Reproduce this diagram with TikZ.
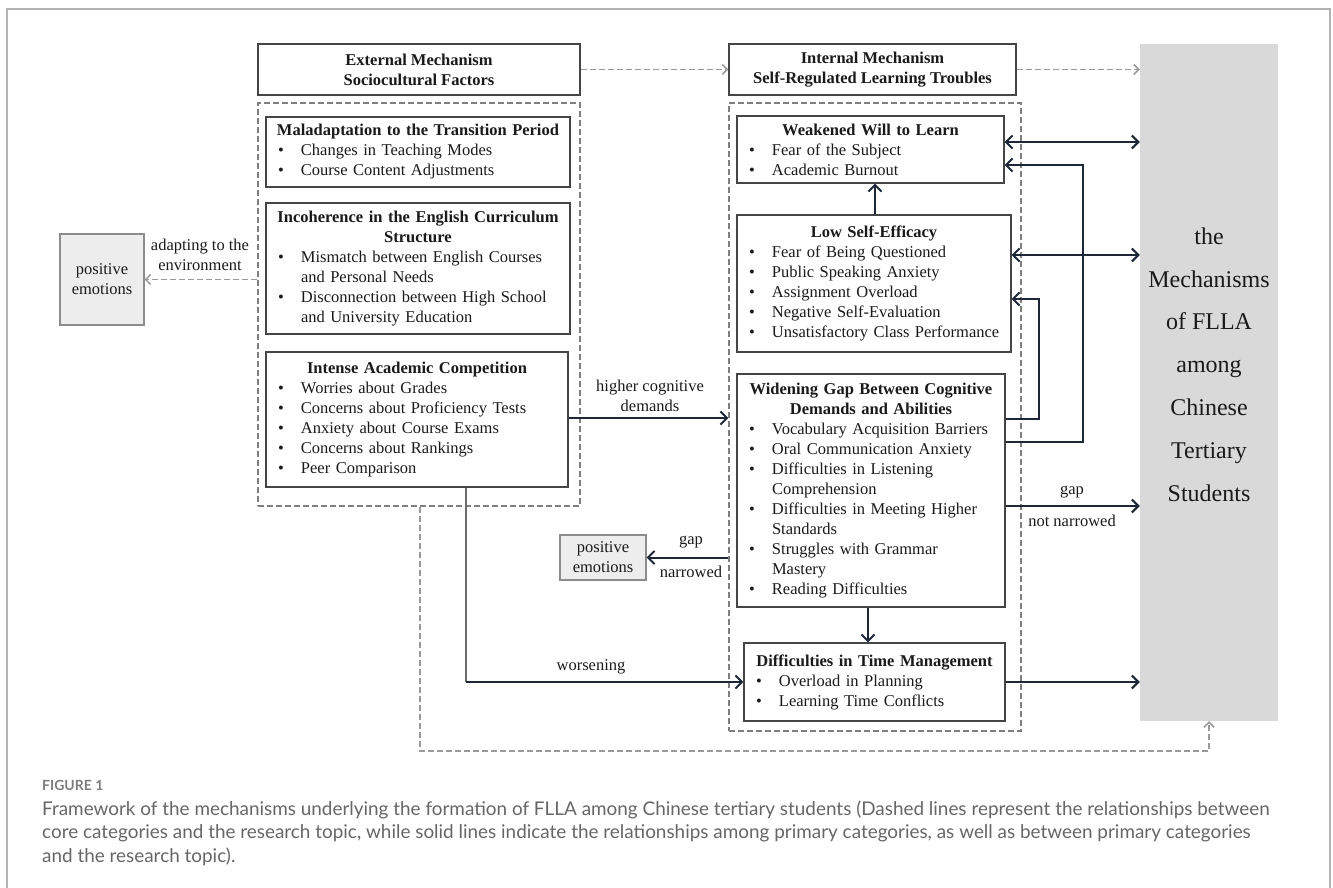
\documentclass[tikz,border=0pt]{standalone}
\usepackage{fontspec}
\setmainfont{Liberation Serif}
\newfontfamily\capfont{Lato}
\usetikzlibrary{arrows.meta}
\definecolor{boxc}{HTML}{454545}
\definecolor{txt}{HTML}{1A1A1A}
\definecolor{arrc}{HTML}{1E2638}
\definecolor{contc}{HTML}{7F7F7F}
\definecolor{dshc}{HTML}{9A9A9A}
\definecolor{grayfill}{HTML}{D9D9D9}
\definecolor{posfill}{HTML}{EDEDED}
\definecolor{posdraw}{HTML}{8C8C8C}
\definecolor{framec}{HTML}{B4B4B4}
\definecolor{capc}{HTML}{666666}
\newcommand\itm[1]{\par\noindent\makebox[27pt][l]{\hspace{4pt}\textbullet}\mbox{#1}}
\newcommand\cnt[1]{\par\noindent\hspace*{27pt}\mbox{#1}}
\newcommand\ttl[1]{{\centering\bfseries #1\par}}
\begin{document}
\begin{tikzpicture}[x=1pt,y=-1pt,
  fnt/.style={font=\fontsize{16.5}{20}\selectfont},
  hdr/.style={draw=boxc, line width=1.3pt, fill=white, align=center, text=txt, fnt, inner sep=0pt},
  box/.style={draw=boxc, line width=1.3pt, fill=white, align=left, text=txt, fnt, inner xsep=8pt, inner ysep=0pt},
  cont/.style={draw=contc, line width=1.3pt, dash pattern=on 6pt off 3pt, inner sep=0pt},
  posbox/.style={draw=posdraw, line width=1.2pt, fill=posfill, align=center, text=txt, fnt, inner sep=0pt},
  lbl/.style={align=center, text=txt, fnt, inner sep=0pt},
  arr/.style={draw=arrc, line width=2pt, -{Straight Barb[length=6.5pt,width=13pt]}},
  darr/.style={draw=arrc, line width=2pt, {Straight Barb[length=6.5pt,width=13pt]}-{Straight Barb[length=6.5pt,width=13pt]}},
  thinln/.style={draw=boxc!80, line width=1.2pt},
  dsh/.style={draw=dshc, line width=1.5pt, dash pattern=on 6pt off 3pt, -{Straight Barb[length=5pt,width=10pt]}},
]
\useasboundingbox (0,0) rectangle (1333,888);
\draw[framec, line width=1.5pt] (7,888) -- (7,9) -- (1330,9) -- (1330,888);

% containers
\node[cont, minimum width=322pt, minimum height=403pt] (lc) at (419,304.5) {};
\node[cont, minimum width=292pt, minimum height=628pt] (rc) at (875,417) {};

% headers
\node[hdr, minimum width=322pt, minimum height=51pt] (ext) at (419,69.5) {\textbf{External Mechanism}\\\textbf{Sociocultural Factors}};
\node[hdr, minimum width=287pt, minimum height=51pt] (int) at (872.5,69.5) {\textbf{Internal Mechanism}\\\textbf{Self-Regulated Learning Troubles}};

% research topic
\node[fill=grayfill, minimum width=138pt, minimum height=677pt, inner sep=0pt] (gray) at (1209,382.5) {};
\node[align=center, text=txt, font=\fontsize{24}{42.8}\selectfont, inner sep=0pt] (topic) at (1209,364.5) {the\\Mechanisms\\of FLLA\\among\\Chinese\\Tertiary\\Students};

% left boxes
\node[box, minimum width=304pt, minimum height=70pt, text width=288pt] (mal) at (418,152) {%
\ttl{Maladaptation to the Transition Period}%
\itm{Changes in Teaching Modes}%
\itm{Course Content Adjustments}};
\node[box, minimum width=304pt, minimum height=131pt, text width=288pt] (inc) at (418,268.5) {%
\ttl{Incoherence in the English Curriculum\\Structure}%
\itm{Mismatch between English Courses}%
\cnt{and Personal Needs}%
\itm{Disconnection between High School}%
\cnt{and University Education}};
\node[box, minimum width=302pt, minimum height=135pt, text width=286pt] (ints) at (417,419.5) {%
\ttl{Intense Academic Competition}%
\itm{Worries about Grades}%
\itm{Concerns about Proficiency Tests}%
\itm{Anxiety about Course Exams}%
\itm{Concerns about Rankings}%
\itm{Peer Comparison}};

% right boxes
\node[box, minimum width=267pt, minimum height=67pt, text width=251pt] (weak) at (870.5,149.5) {%
\ttl{Weakened Will to Learn}%
\itm{Fear of the Subject}%
\itm{Academic Burnout}};
\node[box, minimum width=274pt, minimum height=137pt, text width=258pt] (lowse) at (874,283.5) {%
\ttl{Low Self-Efficacy}%
\itm{Fear of Being Questioned}%
\itm{Public Speaking Anxiety}%
\itm{Assignment Overload}%
\itm{Negative Self-Evaluation}%
\itm{Unsatisfactory Class Performance}};
\node[box, minimum width=268pt, minimum height=233pt, text width=252pt] (wid) at (871,490.5) {%
\ttl{Widening Gap Between Cognitive\\Demands and Abilities}%
\itm{Vocabulary Acquisition Barriers}%
\itm{Oral Communication Anxiety}%
\itm{Difficulties in Listening}%
\cnt{Comprehension}%
\itm{Difficulties in Meeting Higher}%
\cnt{Standards}%
\itm{Struggles with Grammar}%
\cnt{Mastery}%
\itm{Reading Difficulties}};
\node[box, minimum width=261pt, minimum height=78pt, text width=245pt] (time) at (874.5,682) {%
\ttl{Difficulties in Time Management}%
\itm{Overload in Planning}%
\itm{Learning Time Conflicts}};

% positive emotions
\node[posbox, minimum width=84pt, minimum height=91pt] (pos1) at (102,279.5) {positive\\emotions};
\node[posbox, minimum width=86pt, minimum height=45pt] (pos2) at (603,557.5) {positive\\emotions};

% helper coordinates
\coordinate (y142) at (0,142);
\coordinate (y165) at (0,165);
\coordinate (y255) at (0,255);
\coordinate (y299) at (0,299);
\coordinate (y418) at (0,418);
\coordinate (y506) at (0,506);
\coordinate (x875) at (875,0);
\coordinate (x868) at (868,0);
\coordinate (c1) at (1039,419);
\coordinate (c2) at (1083,442);
\coordinate (c3) at (466,682);
\coordinate (b1) at (420,751);

% dashed connectors
\draw[dsh] (ext.east) -- (int.west);
\draw[dsh] (int.east) -- (int.east -| gray.west);
\draw[dsh] (lc.west |- pos1.east) -- (pos1.east);
\draw[dsh] (lc.south -| b1) -- (b1) -- (b1 -| gray.south) -- (gray.south);
\node[lbl] (adapt) at (200,255) {adapting to the\\environment};

% solid connectors
\draw[arr] (ints.east |- y418) -- (rc.west |- y418);
\node[lbl] (hcd) at (650,396) {higher cognitive\\demands};
\draw[darr] (weak.east |- y142) -- (gray.west |- y142);
\draw[darr] (lowse.east |- y255) -- (gray.west |- y255);
\draw[arr] (wid.east |- c1) -- (c1) |- (lowse.east |- y299);
\draw[arr] (wid.east |- c2) -- (c2) |- (weak.east |- y165);
\draw[arr] (lowse.north -| x875) -- (weak.south -| x875);
\draw[arr] (wid.east |- y506) -- (gray.west |- y506);
\node[lbl] (gap1) at (1072,492) {gap};
\node[lbl] (nn) at (1072,521) {not narrowed};
\draw[arr] (rc.west |- pos2.east) -- (pos2.east);
\node[lbl] (gap2) at (691,542) {gap};
\node[lbl] (nar) at (691,572) {narrowed};
\draw[arr] (wid.south -| x868) -- (time.north -| x868);
\draw[thinln] (ints.south -| c3) -- (c3);
\draw[arr] (c3) -- (time.west |- c3);
\node[lbl] (wors) at (591,667) {worsening};
\draw[arr] (time.east) -- (time.east -| gray.west);

% caption
\node[anchor=base west, inner sep=0pt, text=capc!85, font=\capfont\bfseries\fontsize{14}{16}\selectfont] (fig) at (42,790) {FIGURE 1};
\node[anchor=base west, inner sep=0pt, text=capc, font=\capfont\fontsize{18.9}{22}\selectfont] (cap1) at (42,815) {Framework of the mechanisms underlying the formation of FLLA among Chinese tertiary students (Dashed lines represent the relationships between};
\node[anchor=base west, inner sep=0pt, text=capc, font=\capfont\fontsize{18.9}{22}\selectfont] (cap2) at (42,838.5) {core categories and the research topic, while solid lines indicate the relationships among primary categories, as well as between primary categories};
\node[anchor=base west, inner sep=0pt, text=capc, font=\capfont\fontsize{18.9}{22}\selectfont] (cap3) at (42,862) {and the research topic).};
\end{tikzpicture}
\end{document}
